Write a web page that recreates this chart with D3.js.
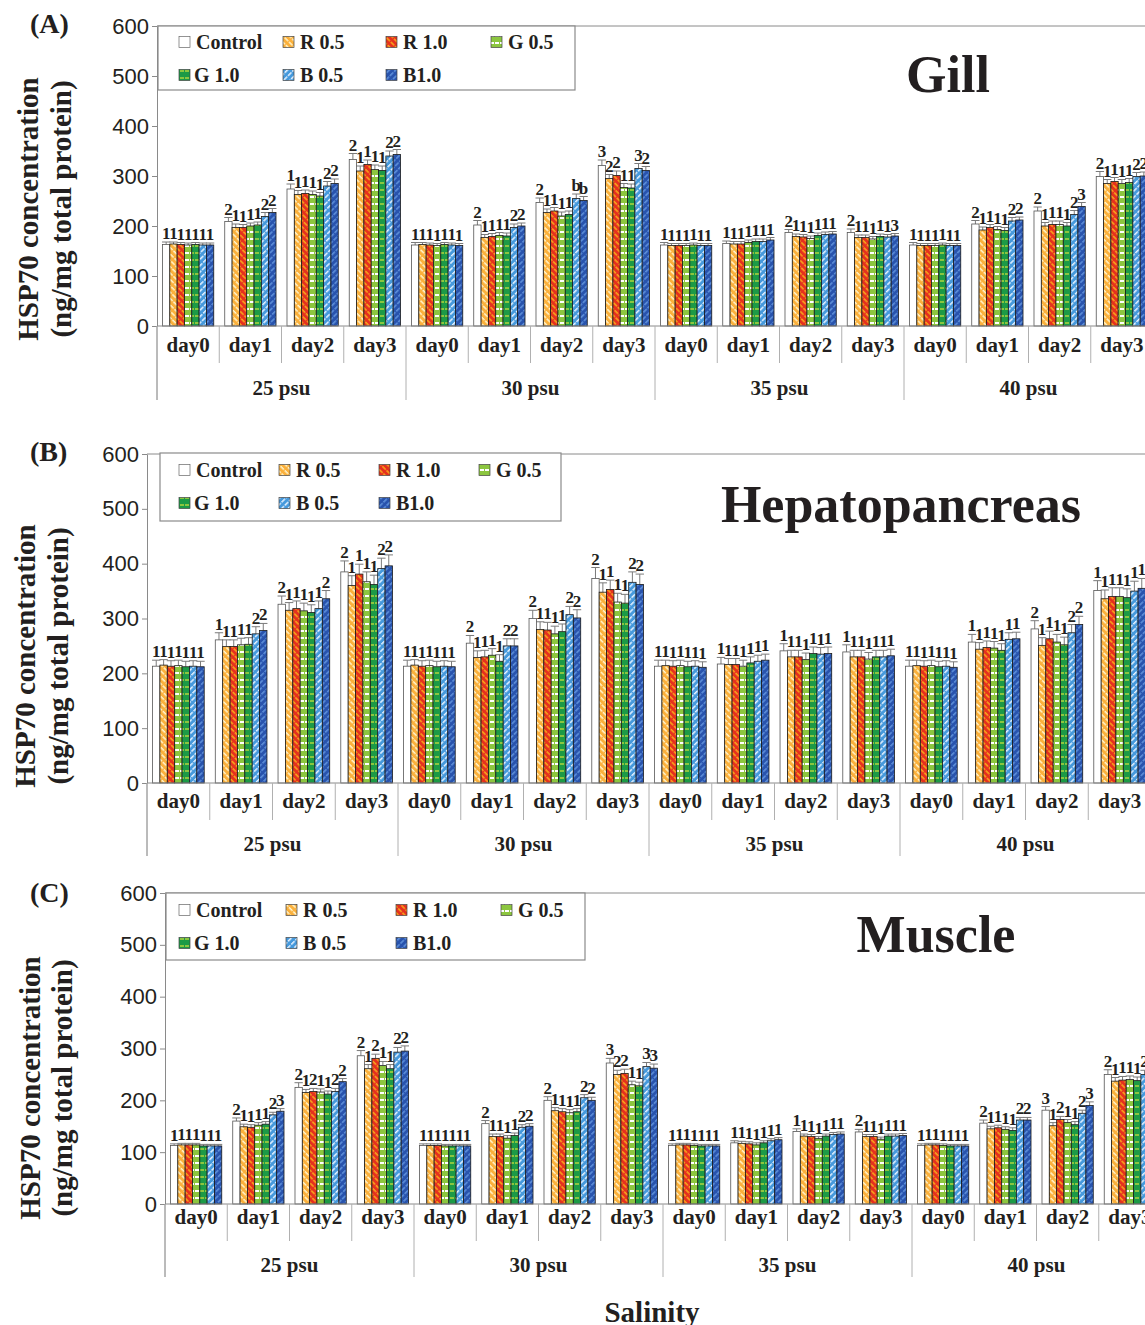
<!DOCTYPE html>
<html>
<head>
<meta charset="utf-8">
<script src="https://cdn.jsdelivr.net/npm/d3@7"></script>
<style>
  body { margin: 0; background: #fff; }
  text { font-family: "Liberation Serif", "Times New Roman", serif; font-weight: bold; fill: #231f20; }
  .tick text { font-family: "Liberation Sans", Arial, sans-serif; font-weight: normal; font-size: 22px; }
</style>
</head>
<body>
<svg id="chart" width="1145" height="1325"></svg>
<script>
const WIDTH = 1145;
const HEIGHT = 1325;
const AXIS_GRAY = '#8a8a8a';

const salinities = ['25 psu', '30 psu', '35 psu', '40 psu'];
const days = ['day0', 'day1', 'day2', 'day3'];
const series = ['Control', 'R 0.5', 'R 1.0', 'G 0.5', 'G 1.0', 'B 0.5', 'B1.0'];
const yTicks = [0, 100, 200, 300, 400, 500, 600];

// rows: 25psu day0..day3, 30psu day0..day3, 35psu ..., 40psu ...
const gillMeans = [
  [163, 164, 163, 162, 163, 162, 162], [209, 197, 197, 200, 202, 219, 227],
  [274, 263, 265, 263, 260, 280, 285], [333, 310, 323, 313, 311, 340, 343],
  [162, 163, 162, 161, 163, 162, 161], [202, 177, 179, 181, 180, 197, 200],
  [247, 227, 230, 220, 223, 255, 251], [321, 295, 301, 277, 276, 315, 311],
  [162, 161, 161, 161, 162, 161, 161], [165, 164, 164, 167, 169, 169, 172],
  [187, 179, 178, 175, 181, 183, 184], [187, 177, 177, 174, 179, 178, 180],
  [162, 161, 161, 161, 162, 161, 161], [204, 192, 197, 193, 191, 210, 212],
  [230, 200, 203, 203, 200, 223, 239], [299, 285, 289, 285, 287, 299, 300]
];
const gillErr = [
  [5, 4, 4, 4, 4, 4, 4], [8, 7, 6, 6, 6, 8, 8],
  [10, 8, 7, 7, 7, 9, 9], [12, 10, 9, 9, 9, 10, 10],
  [5, 4, 4, 4, 4, 4, 4], [9, 6, 6, 6, 6, 7, 6],
  [9, 7, 7, 8, 7, 9, 8], [11, 8, 9, 8, 8, 10, 8],
  [5, 4, 4, 4, 4, 4, 4], [5, 5, 5, 5, 5, 5, 5],
  [6, 5, 5, 5, 5, 5, 5], [7, 5, 5, 5, 5, 5, 5],
  [5, 4, 4, 4, 4, 4, 4], [7, 6, 6, 6, 6, 7, 6],
  [8, 7, 7, 7, 7, 8, 8], [10, 8, 8, 8, 8, 8, 8]
];
const gillLetters = [
  '1111111', '2111122', '1111122', '2111122',
  '1111111', '2111122', '21111bb', '3221132',
  '1111111', '1111111', '2111111', '2111113',
  '1111111', '2111122', '2111123', '2111122'
];

const hepatoMeans = [
  [213, 215, 213, 214, 212, 213, 212], [261, 249, 249, 252, 253, 272, 278],
  [326, 315, 318, 314, 311, 318, 336], [385, 360, 381, 367, 362, 391, 396],
  [213, 215, 213, 214, 212, 213, 212], [255, 229, 230, 233, 222, 250, 250],
  [300, 280, 279, 272, 276, 307, 301], [373, 348, 353, 330, 328, 366, 362],
  [213, 214, 213, 214, 212, 213, 211], [217, 216, 216, 213, 219, 222, 224],
  [241, 230, 230, 225, 236, 235, 236], [239, 230, 230, 226, 230, 230, 232],
  [213, 214, 213, 214, 212, 213, 211], [257, 244, 247, 246, 242, 262, 263],
  [281, 251, 263, 257, 252, 274, 289], [351, 336, 340, 340, 338, 350, 355]
];
const hepatoErr = [
  [11, 10, 10, 10, 10, 10, 10], [13, 12, 12, 12, 12, 13, 13],
  [15, 14, 14, 14, 14, 14, 15], [20, 18, 18, 18, 17, 19, 20],
  [11, 10, 10, 10, 10, 10, 10], [14, 12, 12, 12, 12, 13, 13],
  [15, 14, 14, 14, 14, 15, 15], [20, 17, 17, 16, 16, 19, 19],
  [11, 10, 10, 10, 10, 10, 10], [12, 11, 11, 11, 11, 11, 11],
  [13, 12, 12, 12, 12, 12, 12], [13, 12, 12, 12, 12, 12, 12],
  [11, 10, 10, 10, 10, 10, 10], [14, 12, 12, 12, 12, 12, 12],
  [15, 14, 14, 14, 14, 15, 15], [18, 16, 16, 16, 16, 18, 18]
];
const hepatoLetters = [
  '1111111', '1111122', '2111112', '2111122',
  '1111111', '2111122', '2111122', '2111122',
  '1111111', '1111111', '1111111', '1111111',
  '1111111', '1111111', '2111122', '1111111'
];

const muscleMeans = [
  [113, 114, 114, 114, 112, 112, 112], [160, 149, 148, 152, 154, 172, 179],
  [225, 215, 217, 216, 212, 217, 236], [286, 261, 281, 267, 261, 293, 295],
  [113, 113, 113, 112, 112, 112, 112], [155, 130, 130, 127, 132, 148, 150],
  [200, 180, 178, 176, 178, 205, 200], [272, 250, 252, 230, 228, 265, 262],
  [113, 114, 114, 113, 112, 112, 112], [118, 117, 116, 114, 118, 122, 124],
  [140, 131, 130, 126, 131, 134, 135], [139, 130, 130, 125, 131, 131, 132],
  [113, 114, 114, 113, 112, 112, 112], [156, 145, 147, 144, 142, 162, 162],
  [181, 151, 163, 157, 153, 175, 190], [250, 237, 239, 240, 238, 250, 252]
];
const muscleErr = [
  [3, 3, 3, 3, 3, 3, 3], [6, 5, 5, 5, 5, 5, 5],
  [9, 6, 6, 6, 6, 6, 6], [10, 8, 8, 8, 8, 9, 10],
  [3, 3, 3, 3, 3, 3, 3], [6, 5, 5, 5, 5, 5, 5],
  [7, 6, 6, 6, 6, 6, 6], [9, 8, 8, 7, 7, 8, 8],
  [3, 3, 3, 3, 3, 3, 3], [4, 4, 4, 4, 4, 4, 4],
  [5, 4, 4, 4, 4, 4, 4], [5, 4, 4, 4, 4, 4, 4],
  [3, 3, 3, 3, 3, 3, 3], [6, 5, 5, 5, 5, 5, 5],
  [7, 6, 6, 6, 6, 6, 7], [9, 7, 7, 7, 7, 8, 8]
];
const muscleLetters = [
  '1111111', '2111123', '2121122', '2121122',
  '1111111', '2111122', '2111122', '3221133',
  '1111111', '1111111', '1111111', '2111111',
  '1111111', '2111122', '3121123', '2111122'
];

const PANELS = [
  { tag: '(A)', title: 'Gill', means: gillMeans, errs: gillErr, letters: gillLetters,
    x0: 157, top: 26, base: 326, step: 249, tagY: 33,
    titleX: 948, titleY: 92, ylabX: [38, 71], ylabY: 209,
    dayY: 352, psuY: 395, dayLen: 37, psuLen: 74,
    legend: { x: 158, y: 26, w: 417, h: 64, cols: [179, 283, 386, 491], rows: [42, 75] } },
  { tag: '(B)', title: 'Hepatopancreas', means: hepatoMeans, errs: hepatoErr, letters: hepatoLetters,
    x0: 147, top: 454, base: 783, step: 251, tagY: 461,
    titleX: 901, titleY: 522, ylabX: [35, 68], ylabY: 656,
    dayY: 808, psuY: 851, dayLen: 37, psuLen: 73,
    legend: { x: 160, y: 453, w: 401, h: 68, cols: [179, 279, 379, 479], rows: [470, 503] } },
  { tag: '(C)', title: 'Muscle', means: muscleMeans, errs: muscleErr, letters: muscleLetters,
    x0: 165, top: 893, base: 1204, step: 249, tagY: 902,
    titleX: 936, titleY: 952, ylabX: [40, 72], ylabY: 1088,
    dayY: 1224, psuY: 1272, dayLen: 37, psuLen: 73,
    legend: { x: 166, y: 893, w: 419, h: 67, cols: [179, 286, 396, 501], rows: [910, 943] } }
];

const svg = d3.select('#chart');
const defs = svg.append('defs');

function stripePattern(id, base, stripe, angle, w, h, sw) {
  const pat = defs.append('pattern')
    .attr('id', id)
    .attr('patternUnits', 'userSpaceOnUse')
    .attr('width', w).attr('height', h)
    .attr('patternTransform', `rotate(${angle})`);
  pat.append('rect').attr('width', w).attr('height', h).attr('fill', base);
  pat.append('rect').attr('x', 0).attr('y', 0)
    .attr('width', w * 0.8).attr('height', sw).attr('fill', stripe);
}

stripePattern('pR05', '#fbb03b', '#fff4cc', 45, 6, 4.5, 1.5);
stripePattern('pR10', '#e5311e', '#f7a21b', 45, 6, 4.5, 1.6);
stripePattern('pG05', '#8cc63f', '#ffffff', 0, 5, 7, 2);
stripePattern('pG10', '#1c9a46', '#8cc63f', 0, 5, 7, 2);
stripePattern('pB05', '#4599dc', '#e6f2ff', -45, 6, 4.5, 1.5);
stripePattern('pB10', '#2853ad', '#5d8fd9', -45, 6, 4.5, 1.6);

const fills = {
  'Control': '#ffffff',
  'R 0.5': 'url(#pR05)', 'R 1.0': 'url(#pR10)',
  'G 0.5': 'url(#pG05)', 'G 1.0': 'url(#pG10)',
  'B 0.5': 'url(#pB05)', 'B1.0': 'url(#pB10)'
};

function drawPanel(p) {
  const g = svg.append('g');
  const y = d3.scaleLinear().domain([0, 600]).range([p.base, p.top]);
  const xPsu = d3.scaleBand().domain(salinities).range([p.x0, p.x0 + 4 * p.step]);
  const xDay = d3.scaleBand().domain(days).range([0, xPsu.bandwidth()]);
  const xSer = d3.scaleBand().domain(series).range([0, xDay.bandwidth()]).paddingOuter(0.75);

  const rows = [];
  salinities.forEach((s, si) => days.forEach((d, di) => {
    const k = si * 4 + di;
    series.forEach((name, j) => rows.push({
      psu: s, day: d, name: name,
      value: p.means[k][j], err: p.errs[k][j], letter: p.letters[k][j]
    }));
  }));
  const bx = d => xPsu(d.psu) + xDay(d.day) + xSer(d.name);
  const bw = xSer.bandwidth();

  // plot frame top
  g.append('line')
    .attr('x1', p.x0).attr('x2', p.x0 + 4 * p.step)
    .attr('y1', p.top).attr('y2', p.top)
    .attr('stroke', AXIS_GRAY).attr('stroke-width', 1);

  // error bars
  const eb = g.append('g').attr('stroke', '#7a7a7a').attr('stroke-width', 1);
  eb.selectAll('line.stem').data(rows).join('line')
    .attr('class', 'stem')
    .attr('x1', d => bx(d) + bw / 2).attr('x2', d => bx(d) + bw / 2)
    .attr('y1', d => y(d.value)).attr('y2', d => y(d.value + d.err));
  eb.selectAll('line.cap').data(rows).join('line')
    .attr('class', 'cap')
    .attr('x1', d => bx(d) - 0.5).attr('x2', d => bx(d) + bw + 0.5)
    .attr('y1', d => y(d.value + d.err)).attr('y2', d => y(d.value + d.err));

  // bars
  g.selectAll('rect.bar').data(rows).join('rect')
    .attr('class', 'bar')
    .attr('x', d => bx(d))
    .attr('y', d => y(d.value))
    .attr('width', bw)
    .attr('height', d => y(0) - y(d.value))
    .attr('fill', d => fills[d.name])
    .attr('stroke', d => d.name == 'Control' ? '#555' : '#1a1a1a')
    .attr('stroke-width', 0.8);

  // significance letters
  g.selectAll('text.sig').data(rows).join('text')
    .attr('class', 'sig')
    .attr('x', d => bx(d) + bw / 2)
    .attr('y', d => y(d.value + d.err) - 3)
    .attr('text-anchor', 'middle')
    .style('font-size', '17px')
    .text(d => d.letter);

  // y axis
  const yAxis = g.append('g')
    .attr('transform', `translate(${p.x0},0)`)
    .call(d3.axisLeft(y).tickValues(yTicks).tickSize(5).tickSizeOuter(0).tickPadding(3));
  yAxis.select('.domain').attr('stroke', AXIS_GRAY);
  yAxis.selectAll('.tick line').attr('stroke', AXIS_GRAY);
  yAxis.selectAll('.tick text').attr('fill', '#231f20');
  g.append('line')
    .attr('x1', p.x0).attr('x2', p.x0)
    .attr('y1', p.base).attr('y2', p.base + p.psuLen)
    .attr('stroke', AXIS_GRAY);

  // category axis
  g.append('line')
    .attr('x1', p.x0).attr('x2', p.x0 + 4 * p.step)
    .attr('y1', p.base).attr('y2', p.base)
    .attr('stroke', AXIS_GRAY);
  salinities.forEach(s => {
    days.forEach((d, di) => {
      const xx = xPsu(s) + xDay(d);
      g.append('line')
        .attr('x1', xx).attr('x2', xx)
        .attr('y1', p.base).attr('y2', p.base + (di == 0 ? p.psuLen : p.dayLen))
        .attr('stroke', '#b0b0b0');
      g.append('text')
        .attr('x', xx + xDay.bandwidth() / 2)
        .attr('y', p.dayY)
        .attr('text-anchor', 'middle')
        .style('font-size', '21px')
        .text(d);
    });
    g.append('text')
      .attr('x', xPsu(s) + xPsu.bandwidth() / 2)
      .attr('y', p.psuY)
      .attr('text-anchor', 'middle')
      .style('font-size', '21px')
      .text(s);
  });
  g.append('line')
    .attr('x1', p.x0 + 4 * p.step).attr('x2', p.x0 + 4 * p.step)
    .attr('y1', p.base).attr('y2', p.base + p.psuLen)
    .attr('stroke', '#b0b0b0');

  // legend
  const L = p.legend;
  const lg = g.append('g');
  lg.append('rect')
    .attr('x', L.x).attr('y', L.y).attr('width', L.w).attr('height', L.h)
    .attr('fill', '#fff').attr('stroke', AXIS_GRAY).attr('stroke-width', 1.2);
  series.forEach((name, i) => {
    const cx = L.cols[i % 4];
    const cy = L.rows[Math.floor(i / 4)];
    lg.append('rect')
      .attr('x', cx).attr('y', cy - 5.5)
      .attr('width', 11).attr('height', 11)
      .attr('fill', fills[name])
      .attr('stroke', name == 'Control' ? '#666' : '#444')
      .attr('stroke-width', 0.7);
    lg.append('text')
      .attr('x', cx + (i == 4 ? 15 : 17))
      .attr('y', cy + 7)
      .style('font-size', '20px')
      .text(name);
  });

  // title and tag
  g.append('text')
    .attr('x', p.titleX).attr('y', p.titleY)
    .attr('text-anchor', 'middle')
    .style('font-size', '52px')
    .text(p.title);
  g.append('text')
    .attr('x', 30).attr('y', p.tagY)
    .style('font-size', '28px')
    .text(p.tag);

  // y label
  ['HSP70 concentration', '(ng/mg total protein)'].forEach((t, i) => {
    g.append('text')
      .attr('transform', `translate(${p.ylabX[i]},${p.ylabY}) rotate(-90)`)
      .attr('text-anchor', 'middle')
      .style('font-size', '29px')
      .text(t);
  });
}

PANELS.forEach(p => drawPanel(p));

svg.append('text')
  .attr('x', 652).attr('y', 1322)
  .attr('text-anchor', 'middle')
  .style('font-size', '29px')
  .text('Salinity');
</script>
</body>
</html>
